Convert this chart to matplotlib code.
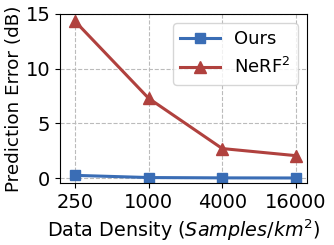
import matplotlib
matplotlib.use("Agg")
import matplotlib.pyplot as plt

densities = ["250", "1000", "4000", "16000"]
ours = [0.25, 0.05, 0.02, 0.01]
nerf2 = [14.35, 7.3, 2.7, 2.05]

fig, ax = plt.subplots(figsize=(3.34, 2.45), dpi=100)
x = range(len(densities))
ax.plot(x, ours, color="#3a6db5", lw=2.2, marker="s", ms=7, label="Ours")
ax.plot(x, nerf2, color="#b0413e", lw=2.2, marker="^", ms=8, label="NeRF$^2$")
ax.set_xticks(list(x))
ax.set_xticklabels(densities)
ax.set_xlim(-0.2, 3.15)
ax.set_ylim(-0.45, 15)
ax.set_yticks([0, 5, 10, 15])
ax.tick_params(labelsize=14)
ax.set_xlabel("Data Density ($\\mathit{Samples/km^2}$)", fontsize=13.8)
ax.set_ylabel("Prediction Error (dB)", fontsize=13.2, labelpad=2)
ax.grid(True, ls="--", color="#bbbbbb", lw=0.8)
ax.legend(fontsize=13, loc="upper right", handlelength=2.2)
fig.subplots_adjust(left=0.18, right=0.919, top=0.943, bottom=0.253)
fig.savefig("out.png", dpi=100)
